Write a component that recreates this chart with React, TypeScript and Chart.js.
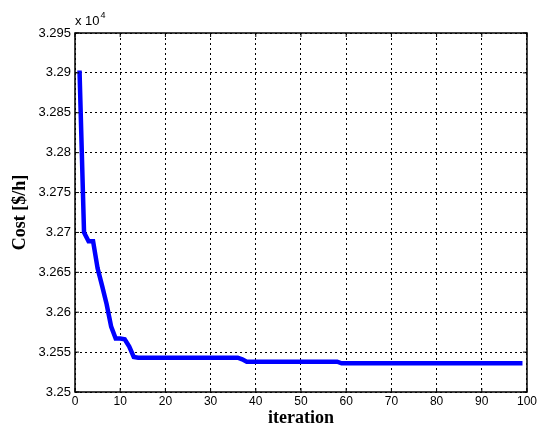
import React, { useEffect, useRef } from "react";
import { Chart, registerables } from "chart.js";

Chart.register(...registerables);

// Cost values in units of 10^4 $/h, iterations 1..99
const iterations: number[] = Array.from({ length: 99 }, (_, i) => i + 1);
const cost: number[] = [
  3.2903, 3.2700, 3.2689, 3.2689, 3.2655, 3.2633, 3.2610, 3.2582, 3.2567, 3.2567,
  3.2566, 3.2557, 3.2544, 3.2543, 3.2543, 3.2543, 3.2543, 3.2543, 3.2543, 3.2543,
  3.2543, 3.2543, 3.2543, 3.2543, 3.2543, 3.2543, 3.2543, 3.2543, 3.2543, 3.2543,
  3.2543, 3.2543, 3.2543, 3.2543, 3.2543, 3.2543, 3.2541, 3.2538, 3.2538, 3.2538,
  3.2538, 3.2538, 3.2538, 3.2538, 3.2538, 3.2538, 3.2538, 3.2538, 3.2538, 3.2538,
  3.2538, 3.2538, 3.2538, 3.2538, 3.2538, 3.2538, 3.2538, 3.2538, 3.2536, 3.2536,
  3.2536, 3.2536, 3.2536, 3.2536, 3.2536, 3.2536, 3.2536, 3.2536, 3.2536, 3.2536,
  3.2536, 3.2536, 3.2536, 3.2536, 3.2536, 3.2536, 3.2536, 3.2536, 3.2536, 3.2536,
  3.2536, 3.2536, 3.2536, 3.2536, 3.2536, 3.2536, 3.2536, 3.2536, 3.2536, 3.2536,
  3.2536, 3.2536, 3.2536, 3.2536, 3.2536, 3.2536, 3.2536, 3.2536, 3.2536,
];
const xTickLabels: string[] = ["0", "10", "20", "30", "40", "50", "60", "70", "80", "90", "100"];
const yTickLabels: string[] = ["3.25", "3.255", "3.26", "3.265", "3.27", "3.275", "3.28", "3.285", "3.29", "3.295"];
const xTitle = "iteration";
const yTitle = "Cost [$/h]";

const boxPlugin = {
  id: "matlabBox",
  afterDraw(chart: any) {
    const { ctx, chartArea } = chart;
    const { left, top, right, bottom } = chartArea;
    ctx.save();
    ctx.strokeStyle = "#000";
    ctx.lineWidth = 1.5;
    ctx.setLineDash([]);
    ctx.strokeRect(left, top, right - left, bottom - top);
    // inward tick marks
    ctx.lineWidth = 1;
    const xs = chart.scales.x;
    const ys = chart.scales.y;
    xs.ticks.forEach((t: any) => {
      const px = xs.getPixelForValue(t.value);
      ctx.beginPath();
      ctx.moveTo(px, bottom); ctx.lineTo(px, bottom - 4);
      ctx.moveTo(px, top); ctx.lineTo(px, top + 4);
      ctx.stroke();
    });
    ys.ticks.forEach((t: any) => {
      const py = ys.getPixelForValue(t.value);
      ctx.beginPath();
      ctx.moveTo(left, py); ctx.lineTo(left + 4, py);
      ctx.moveTo(right, py); ctx.lineTo(right - 4, py);
      ctx.stroke();
    });
    // exponent label
    ctx.fillStyle = "#000";
    ctx.textBaseline = "alphabetic";
    ctx.textAlign = "left";
    ctx.font = "13px 'Liberation Sans', Arial, sans-serif";
    ctx.fillText("x 10", left, top - 8);
    const w = ctx.measureText("x 10").width;
    ctx.font = "9px 'Liberation Sans', Arial, sans-serif";
    ctx.fillText("4", left + w + 1, top - 15);
    ctx.restore();
  },
};

export default function App() {
  const ref = useRef<HTMLCanvasElement | null>(null);
  useEffect(() => {
    if (!ref.current) return;
    const xTickFont = { family: "'Liberation Sans', Arial, sans-serif", size: 12 };
    const yTickFont = { family: "'Liberation Sans', Arial, sans-serif", size: 13 };
    const titleFont = { family: "'Liberation Serif', 'Times New Roman', serif", size: 18, weight: "bold" as const };
    const chart = new Chart(ref.current, {
      type: "line",
      data: {
        datasets: [
          {
            data: iterations.map((x, i) => ({ x, y: cost[i] })),
            borderColor: "#0000FF",
            borderWidth: 4.5,
            pointRadius: 0,
            tension: 0,
            fill: false,
          },
        ],
      },
      options: {
        animation: false,
        responsive: false,
        devicePixelRatio: 1,
        layout: { padding: { left: 0, top: 33, right: 9, bottom: 0 } },
        plugins: { legend: { display: false }, tooltip: { enabled: false } },
        scales: {
          x: {
            type: "linear",
            min: 0,
            max: 100,
            ticks: {
              stepSize: 10,
              color: "#000",
              font: xTickFont,
              padding: 2,
              maxRotation: 0,
              callback: (_v: any, i: number) => xTickLabels[i],
            },
            grid: { color: "#000", lineWidth: 1, drawTicks: false },
            border: { display: false, dash: [2, 3] },
            title: { display: true, text: xTitle, color: "#000", font: titleFont, padding: { top: 0, bottom: 3 } },
            afterFit: (s: any) => { s.height = 40; },
          },
          y: {
            type: "linear",
            min: 3.25,
            max: 3.295,
            ticks: {
              stepSize: 0.005,
              color: "#000",
              font: yTickFont,
              padding: 4,
              callback: (_v: any, i: number) => yTickLabels[i],
            },
            grid: { color: "#000", lineWidth: 1, drawTicks: false },
            border: { display: false, dash: [2, 3] },
            title: { display: true, text: yTitle, color: "#000", font: titleFont, padding: { top: 10, bottom: 0 } },
            afterFit: (s: any) => { s.width = 75; },
          },
        },
      },
      plugins: [boxPlugin],
    });
    return () => chart.destroy();
  }, []);
  return (
    <div style={{ position: "fixed", left: 0, top: 0, width: 539, height: 432, background: "#fff" }}>
      <canvas ref={ref} width={539} height={432} style={{ width: 539, height: 432 }} />
    </div>
  );
}
